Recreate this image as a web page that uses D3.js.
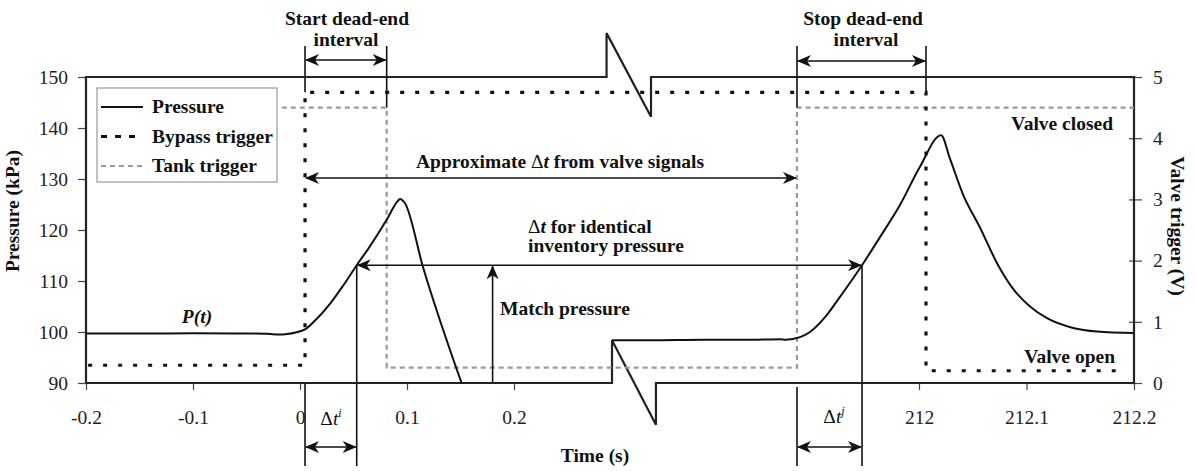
<!DOCTYPE html>
<html><head><meta charset="utf-8">
<script src="https://cdn.jsdelivr.net/npm/d3@7/dist/d3.min.js"></script>
<style>
body{margin:0;background:#fff;}
svg{display:block;font-family:"Liberation Serif","Times New Roman",serif;}
</style></head>
<body>
<svg id="chart" width="1196" height="471"></svg>
<script>
// ---------------- data ----------------
const timeLeft     = [-0.2,-0.15,-0.1,-0.05,-0.03,-0.02,-0.012,-0.004,0.0047,0.012,0.028,0.040,0.053,0.065,0.081,0.0907,0.0935,0.098,0.115,0.151];
const pressureLeft = [99.7,99.7,99.75,99.7,99.65,99.5,99.6,99.9,100.5,101.8,105.5,109.0,113.1,116.7,122.0,125.5,126.1,125.3,112.7,90.0];
const timeRight     = [211.7144,211.75,211.80,211.85,211.8707,211.876,211.8893,211.8986,211.9126,211.9265,211.947,211.9637,211.9823,212.0009,212.0205,212.0288,212.0409,212.0567,212.0726,212.0874,212.1033,212.1191,212.1433,212.1656,212.2];
const pressureRight = [98.4,98.4,98.5,98.5,98.6,98.5,99.0,100.0,102.9,106.9,113.1,118.6,124.9,132.4,138.6,134.0,127.0,120.5,113.5,108.5,105.0,102.7,100.8,100.1,99.8];
const bypassTime = [-0.198,0.0047,0.0047,212.0065,212.0065,212.193];
const bypassVolt = [0.29,0.29,4.75,4.75,0.2,0.2];
const tankTime = [-0.017,0.081,0.081,211.8865,211.8865,212.2];
const tankVolt = [4.5,4.5,0.25,0.25,4.5,4.5];
const pressureTicks = [90,100,110,120,130,140,150];
const voltTicks = [0,1,2,3,4,5];
const timeTicksLeft = [-0.2,-0.1,0,0.1,0.2];
const timeTickLabelsLeft = ["-0.2","-0.1","0","0.1","0.2"];
const timeTicksRight = [212,212.1,212.2];
const timeTickLabelsRight = ["212","212.1","212.2"];
const legendLabels = ["Pressure","Bypass trigger","Tank trigger"];
// key instants for annotations
const tBypassOn = 0.0047, tTankOff = 0.081, tMatchI = 0.053, tMatchArrow = 0.18;
const tTankOn = 211.8865, tBypassOff = 212.0065, tMatchJ = 211.947;
const matchPressure = 113.1;

// ---------------- scales ----------------
const svg = d3.select("#chart");
const xL = d3.scaleLinear().domain([-0.2,0.2]).range([86,514]);
const xR = d3.scaleLinear().domain([212,212.2]).range([919,1134]);
const yP = d3.scaleLinear().domain([90,150]).range([383,77]);
const yV = d3.scaleLinear().domain([0,5]).range([383,77]);
const X = t => t < 100 ? xL(t) : xR(t);
const FS = 19.5;

// markers
const defs = svg.append("defs");
defs.append("marker").attr("id","arr").attr("markerUnits","userSpaceOnUse")
  .attr("viewBox","-14 -7 16 14").attr("refX",0).attr("refY",0)
  .attr("markerWidth",16).attr("markerHeight",14).attr("orient","auto-start-reverse")
  .append("path").attr("d","M1,0 L-13,-6 L-9,0 L-13,6 Z").attr("fill","#111");

// ---------------- axes ----------------
const axL = svg.append("g").attr("transform","translate(86,0)")
  .call(d3.axisLeft(yP).tickValues(pressureTicks).tickSize(8).tickPadding(10));
const axR = svg.append("g").attr("transform","translate(1134,0)")
  .call(d3.axisRight(yV).tickValues(voltTicks).tickFormat(d3.format("d")).tickSize(8).tickPadding(11));
axR.selectAll(".tick line").attr("x1",-5);
const axBL = svg.append("g").attr("transform","translate(0,383)")
  .call(d3.axisBottom(xL).tickValues(timeTicksLeft).tickSize(7).tickPadding(20)
  .tickFormat((d,i)=>timeTickLabelsLeft[i]));
const axBR = svg.append("g").attr("transform","translate(0,383)")
  .call(d3.axisBottom(xR).tickValues(timeTicksRight).tickSize(7).tickPadding(20)
  .tickFormat((d,i)=>timeTickLabelsRight[i]));
[axL,axR,axBL,axBR].forEach(a=>{
  a.select(".domain").remove();
  a.selectAll("text").attr("font-size",FS).attr("font-family","Liberation Serif").attr("fill","#222");
  a.selectAll(".tick line").attr("stroke","#444").attr("stroke-width",1.2);
});

// ---------------- frame with axis break ----------------
const bTop = {l:0.2865, r:211.7507, hi:158.6, lo:142.2};
const bBot = {l:0.2916, r:211.7553, hi:98.4, lo:81.8};
const framePath = [
  [xL(-0.2),yP(90)],[xL(-0.2),yP(150)],[xL(bTop.l),yP(150)],[xL(bTop.l),yP(bTop.hi)],
  [xR(bTop.r),yP(bTop.lo)],[xR(bTop.r),yP(150)],[xR(212.2),yP(150)],[xR(212.2),yP(90)],
  [xR(bBot.r),yP(90)],[xR(bBot.r),yP(bBot.lo)],[xL(bBot.l),yP(bBot.hi)],[xL(bBot.l),yP(90)],[xL(-0.2),yP(90)]
];
svg.append("path").attr("d",d3.line()(framePath)).attr("fill","none")
  .attr("stroke","#222").attr("stroke-width",2.2).attr("stroke-linejoin","miter");

// ---------------- series ----------------
const tankPts = tankTime.map((t,i)=>[X(t),yV(tankVolt[i])]);
svg.append("path").attr("d",d3.line()(tankPts)).attr("fill","none")
  .attr("stroke","#9a9a9a").attr("stroke-width",2.2).attr("stroke-dasharray","5,4");
const byPts = bypassTime.map((t,i)=>[X(t),yV(bypassVolt[i])]);
svg.append("path").attr("d",d3.line()(byPts)).attr("fill","none")
  .attr("stroke","#111").attr("stroke-width",3.2).attr("stroke-dasharray","4,11");

const pLine = d3.line().x(d=>X(d[0])).y(d=>yP(d[1])).curve(d3.curveMonotoneX);
svg.append("path").attr("d",pLine(timeLeft.map((t,i)=>[t,pressureLeft[i]])))
  .attr("fill","none").attr("stroke","#111").attr("stroke-width",2);
svg.append("path").attr("d",pLine(timeRight.map((t,i)=>[t,pressureRight[i]])))
  .attr("fill","none").attr("stroke","#111").attr("stroke-width",2);

// ---------------- annotation lines ----------------
const ann = svg.append("g").attr("stroke","#111").attr("stroke-width",1.6).attr("fill","none");
function vline(t,y1,y2){ann.append("line").attr("x1",X(t)).attr("x2",X(t)).attr("y1",y1).attr("y2",y2);}
vline(tBypassOn, 46, yV(4.75));
vline(tTankOff, 46, yV(4.5));
vline(tTankOn, 46, yV(4.5));
vline(tBypassOff, 46, yV(4.75));
vline(tBypassOn, yP(90), 466);
vline(tTankOn, yP(90)+4, 466);
vline(tMatchI, yP(matchPressure), 466);
vline(tMatchJ, yP(matchPressure), 466);
function harrow(t1,t2,y,both=true){
  const l = ann.append("line").attr("x1",X(t1)+1).attr("x2",X(t2)-1).attr("y1",y).attr("y2",y)
    .attr("marker-end","url(#arr)");
  if(both) l.attr("marker-start","url(#arr)");
}
harrow(tBypassOn, tTankOff, 60);
harrow(tTankOn, tBypassOff, 61);
harrow(tBypassOn, tTankOn, yP(130.2));
harrow(tMatchI, tMatchJ, yP(matchPressure));
harrow(tBypassOn, tMatchI, 447);
harrow(tTankOn, tMatchJ, 447);
ann.append("line").attr("x1",X(tMatchArrow)).attr("x2",X(tMatchArrow))
  .attr("y1",yP(90)).attr("y2",yP(matchPressure)+1).attr("marker-end","url(#arr)");

// ---------------- texts ----------------
function txt(x,y,s,anchor="middle",weight="bold"){
  return svg.append("text").attr("x",x).attr("y",y).attr("text-anchor",anchor)
    .attr("font-size",FS).attr("font-weight",weight).attr("fill","#111").text(s);
}
txt(347,25,"Start dead-end"); txt(346,46,"interval");
txt(863,25,"Stop dead-end"); txt(866,46,"interval");
const ap = txt(560,168,"");
ap.append("tspan").text("Approximate ");
ap.append("tspan").attr("font-weight","normal").text("Δ");
ap.append("tspan").attr("font-style","italic").text("t");
ap.append("tspan").text(" from valve signals");
const dt1 = txt(528,233,"","start");
dt1.append("tspan").attr("font-weight","normal").text("Δ");
dt1.append("tspan").attr("font-style","italic").text("t");
dt1.append("tspan").text(" for identical");
txt(528,252,"inventory pressure","start");
txt(500,315,"Match pressure","start");
txt(1113,130,"Valve closed","end");
txt(1115,363,"Valve open","end");
const pt = txt(197,323,"P(t)"); pt.attr("font-style","italic");
function dtsup(x,y,sup){
  const t = txt(x,y,"","middle","normal");
  t.append("tspan").text("Δ");
  t.append("tspan").attr("font-style","italic").text("t");
  t.append("tspan").attr("font-style","italic").attr("font-size",12).attr("dy",-8).text(sup);
}
dtsup(331,425,"i");
dtsup(834,423,"j");
txt(595,462,"Time (s)");
svg.append("text").attr("transform","translate(19,211) rotate(-90)").attr("text-anchor","middle")
  .attr("font-size",FS).attr("font-weight","bold").attr("fill","#111").text("Pressure (kPa)");
svg.append("text").attr("transform","translate(1171,226) rotate(90)").attr("text-anchor","middle")
  .attr("font-size",FS).attr("font-weight","bold").attr("fill","#111").text("Valve trigger (V)");

// ---------------- legend ----------------
const lg = svg.append("g");
lg.append("rect").attr("x",97).attr("y",88).attr("width",180).attr("height",94)
  .attr("fill","#fff").attr("stroke","#999").attr("stroke-width",1.2);
const lgStyles = [
  {stroke:"#111",w:2,dash:null},
  {stroke:"#111",w:3,dash:"6,8"},
  {stroke:"#9a9a9a",w:2.2,dash:"5,4"}
];
legendLabels.forEach((s,i)=>{
  const y = 107 + i*29.5;
  const l = lg.append("line").attr("x1",101).attr("x2",143).attr("y1",y).attr("y2",y)
    .attr("stroke",lgStyles[i].stroke).attr("stroke-width",lgStyles[i].w);
  if(lgStyles[i].dash) l.attr("stroke-dasharray",lgStyles[i].dash);
  lg.append("text").attr("x",152).attr("y",y+6).attr("font-size",FS).attr("font-weight","bold")
    .attr("fill","#111").text(s);
});
</script>
</body></html>
